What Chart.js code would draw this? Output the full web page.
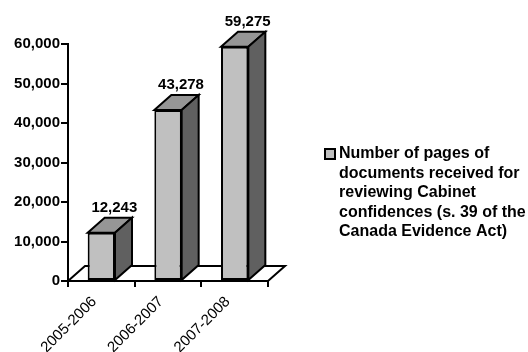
<!DOCTYPE html>
<html>
<head>
<meta charset="utf-8">
<script src="https://cdn.jsdelivr.net/npm/chart.js@4.4.1/dist/chart.umd.min.js"></script>
<style>
  body { margin: 0; background: #fff; }
  canvas { display: block; }
</style>
</head>
<body>
<canvas id="chart" width="528" height="352"></canvas>
<script>
// data
const years = ['2005-2006', '2006-2007', '2007-2008'];
const pages = [12243, 43278, 59275];
const legendLines = [
  'Number of pages of',
  'documents received for',
  'reviewing Cabinet',
  'confidences (s. 39 of the',
  'Canada Evidence Act)'
];

// depth of the fake 3d look
const DX = 17;
const DY = -15;
const FONT = '"Liberation Sans", Arial, sans-serif';

const fmt = v => Number(v).toLocaleString('en-US');

function poly(ctx, pts, fill) {
  ctx.beginPath();
  ctx.moveTo(pts[0][0], pts[0][1]);
  for (let i = 1; i < pts.length; i++) ctx.lineTo(pts[i][0], pts[i][1]);
  ctx.closePath();
  ctx.fillStyle = fill;
  ctx.fill();
  ctx.stroke();
}

const box3d = {
  id: 'box3d',
  beforeDatasetsDraw(chart) {
    const { ctx, chartArea: a } = chart;
    ctx.save();
    ctx.lineWidth = 2;
    ctx.strokeStyle = '#000';
    // floor
    poly(ctx, [[a.left, a.bottom], [a.right, a.bottom], [a.right + DX, a.bottom + DY], [a.left + DX, a.bottom + DY]], '#fff');
    ctx.restore();
  },
  afterDatasetsDraw(chart) {
    const { ctx } = chart;
    const meta = chart.getDatasetMeta(0);
    ctx.save();
    ctx.lineWidth = 2;
    ctx.strokeStyle = '#000';
    meta.data.forEach((bar, i) => {
      const { x, y, base, width } = bar.getProps(['x', 'y', 'base', 'width'], true);
      const l = x - width / 2, r = x + width / 2;
      // top
      poly(ctx, [[l, y], [r, y], [r + DX, y + DY], [l + DX, y + DY]], '#969696');
      // side
      poly(ctx, [[r, y], [r + DX, y + DY], [r + DX, base + DY], [r, base]], '#606060');
      // value label
      ctx.fillStyle = '#000';
      ctx.font = 'bold 15px ' + FONT;
      ctx.textAlign = 'center';
      ctx.textBaseline = 'alphabetic';
      ctx.fillText(fmt(pages[i]), x + 13, y + DY - 6);
    });
    ctx.restore();
  },
  afterDraw(chart) {
    const { ctx } = chart;
    ctx.save();
    // legend
    ctx.lineWidth = 2;
    ctx.strokeStyle = '#000';
    ctx.fillStyle = '#c0c0c0';
    ctx.fillRect(325, 149, 10, 10);
    ctx.strokeRect(325, 149, 10, 10);
    ctx.fillStyle = '#000';
    ctx.font = 'bold 16px ' + FONT;
    ctx.textAlign = 'left';
    ctx.textBaseline = 'middle';
    legendLines.forEach((t, i) => ctx.fillText(t, 339, 154 + i * 19.5));
    ctx.restore();
  }
};

new Chart(document.getElementById('chart'), {
  type: 'bar',
  data: {
    labels: years,
    datasets: [{
      label: legendLines.join(' '),
      data: pages,
      backgroundColor: '#c0c0c0',
      borderColor: '#000',
      borderWidth: 2,
      borderSkipped: false,
      categoryPercentage: 1,
      barPercentage: 0.41
    }]
  },
  options: {
    responsive: false,
    animation: false,
    devicePixelRatio: 1,
    layout: { padding: { top: 44, right: 260, left: 0, bottom: 0 } },
    plugins: {
      legend: { display: false },
      tooltip: { enabled: false }
    },
    scales: {
      y: {
        min: 0,
        max: 60000,
        afterFit: s => { s.width = 68; },
        border: { display: true, color: '#000', width: 2 },
        grid: { drawOnChartArea: false, drawTicks: true, tickLength: 7, color: '#000', lineWidth: 2 },
        ticks: {
          stepSize: 10000,
          color: '#000',
          padding: 1,
          font: { family: FONT, size: 15, weight: 'bold' },
          callback: v => fmt(v)
        }
      },
      x: {
        afterFit: s => { s.height = 71; },
        border: { display: true, color: '#000', width: 2 },
        grid: { drawOnChartArea: false, offset: true, tickLength: 6, color: '#000', lineWidth: 2 },
        ticks: {
          color: '#000',
          minRotation: 45,
          maxRotation: 45,
          labelOffset: -7,
          padding: 6,
          font: { family: FONT, size: 15 }
        }
      }
    }
  },
  plugins: [box3d]
});
</script>
</body>
</html>
